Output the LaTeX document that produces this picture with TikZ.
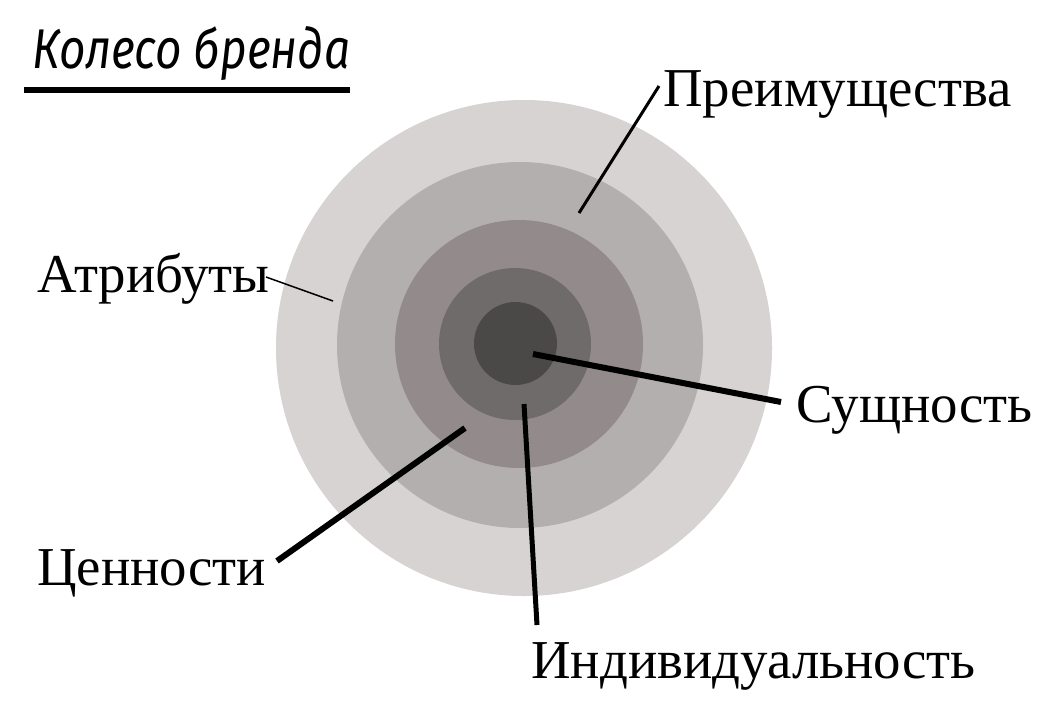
\documentclass[tikz,border=0pt]{standalone}
\usepackage{fontspec}
\setmainfont{Liberation Serif}
\newfontfamily\handfont{Fira Sans}
\definecolor{ringA}{HTML}{D6D3D2}
\definecolor{ringB}{HTML}{B3AFAE}
\definecolor{ringC}{HTML}{938B8B}
\definecolor{ringD}{HTML}{6F6B6A}
\definecolor{ringE}{HTML}{4B4947}
\tikzset{
  lbl/.style={anchor=base west, inner sep=0pt, font=\fontsize{27.4}{32}\selectfont},
  thinlead/.style={line width=0.75pt},
  midlead/.style={line width=1.5pt},
  thicklead/.style={line width=3pt},
}
\begin{document}
\begin{tikzpicture}[x=0.5pt,y=-0.5pt]
\useasboundingbox (0,0) rectangle (1053,712);
\fill[white] (0,0) rectangle (1053,712);
% rings
\fill[ringA] (524,348) circle[radius=248];
\fill[ringB] (520,345) circle[radius=183];
\fill[ringC] (519,344) circle[radius=124];
\fill[ringD] (515,344) circle[radius=76];
\fill[ringE] (515.5,343.5) circle[radius=41.5];
% title
\node[anchor=base west, inner sep=0pt, xscale=0.82, font=\handfont\itshape\fontsize{28}{30}\selectfont] (title) at (32,68) {Колесо бренда};
\draw[line width=3pt] (24,90) -- (350,90);
% labels
\node[lbl] (pre) at (663,106) {Преимущества};
\node[lbl] (attr) at (37,292) {Атрибуты};
\node[lbl] (sush) at (796,422) {Сущность};
\node[lbl] (cen) at (37,585) {Ценности};
\node[lbl] (ind) at (531,678) {Индивидуальность};
% leader endpoints
\coordinate (preIn) at (579,213);
\coordinate (preOut) at (659,86);
\coordinate (attrIn) at (333,301);
\coordinate (attrOut) at (266,277);
\coordinate (sushIn) at (533,354);
\coordinate (sushOut) at (781,402);
\coordinate (indIn) at (524,404);
\coordinate (indOut) at (537,625);
\coordinate (cenIn) at (465,428);
\coordinate (cenOut) at (277,561);
\draw[midlead] (preIn) -- (preOut);
\draw[thinlead] (attrIn) -- (attrOut);
\draw[thicklead] (sushIn) -- (sushOut);
\draw[line width=2.5pt] (indIn) -- (indOut);
\draw[thicklead] (cenIn) -- (cenOut);
\end{tikzpicture}
\end{document}
